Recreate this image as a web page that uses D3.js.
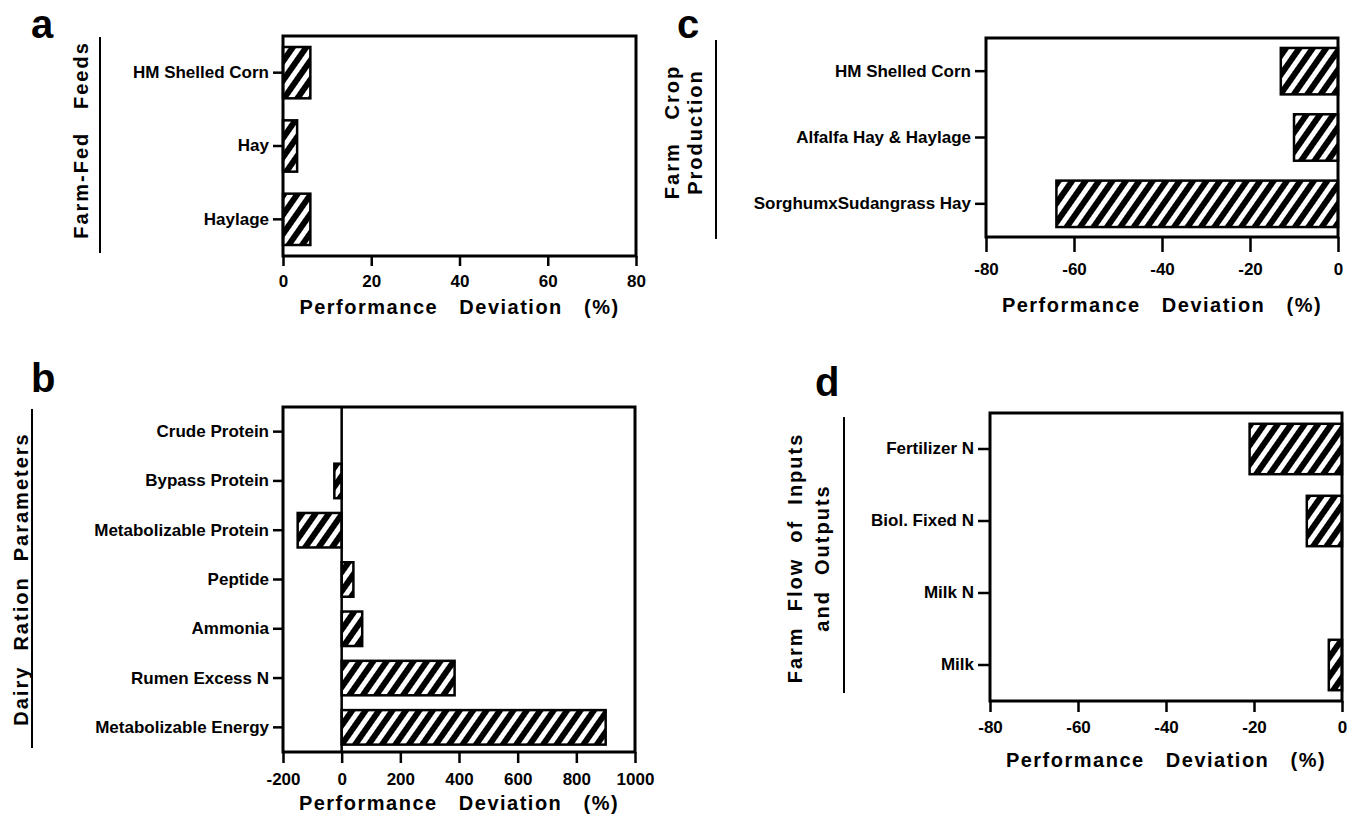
<!DOCTYPE html>
<html>
<head>
<meta charset="utf-8">
<script src="https://cdn.jsdelivr.net/npm/d3@7"></script>
<style>
body{margin:0;background:#fff;}
svg text{font-family:"Liberation Sans",Arial,Helvetica,sans-serif;font-weight:bold;fill:#000;}
</style>
</head>
<body>
<svg id="chart" width="1352" height="818"></svg>
<script>
// Data
var catsA = ["HM Shelled Corn", "Hay", "Haylage"];
var valsA = [6.2, 3.2, 6.2];
var ticksA = [0, 20, 40, 60, 80];

var catsB = ["Crude Protein", "Bypass Protein", "Metabolizable Protein", "Peptide", "Ammonia", "Rumen Excess N", "Metabolizable Energy"];
var valsB = [0, -25, -150, 40, 70, 385, 900];
var ticksB = [-200, 0, 200, 400, 600, 800, 1000];

var catsC = ["HM Shelled Corn", "Alfalfa Hay & Haylage", "SorghumxSudangrass Hay"];
var valsC = [-13, -10, -64];
var ticksC = [-80, -60, -40, -20, 0];

var catsD = ["Fertilizer N", "Biol. Fixed N", "Milk N", "Milk"];
var valsD = [-21, -8, 0, -3];
var ticksD = [-80, -60, -40, -20, 0];

var axisTitle = "Performance   Deviation   (%)";

var svg = d3.select("#chart");

// hatch fill
var pat = svg.append("defs").append("pattern")
  .attr("id", "hatch")
  .attr("patternUnits", "userSpaceOnUse")
  .attr("width", 11).attr("height", 11)
  .attr("patternTransform", "rotate(35)");
pat.append("rect").attr("width", 11).attr("height", 11).attr("fill", "#fff");
pat.append("rect").attr("width", 6).attr("height", 11).attr("fill", "#000");

function drawPanel(p){
  var g = svg.append("g");

  var x = d3.scaleLinear().domain(p.domain).range([p.left, p.right]);
  var y = d3.scaleBand().domain(p.cats).range([p.top, p.bottom])
    .paddingInner(0.3).paddingOuter(0.15);

  // bars
  g.selectAll("rect.bar")
    .data(p.cats.map(function(c, i){ return {cat: c, v: p.vals[i]}; })
      .filter(function(d){ return d.v !== 0; }))
    .enter().append("rect")
      .attr("class", "bar")
      .attr("x", function(d){ return x(Math.min(0, d.v)); })
      .attr("width", function(d){ return Math.abs(x(d.v) - x(0)); })
      .attr("y", function(d){ return y(d.cat); })
      .attr("height", y.bandwidth())
      .attr("fill", "url(#hatch)")
      .attr("stroke", "#000")
      .attr("stroke-width", 2.5);

  // zero line (only when 0 is inside the domain)
  if(p.zeroLine){
    g.append("line")
      .attr("x1", x(0)).attr("x2", x(0))
      .attr("y1", p.top).attr("y2", p.bottom)
      .attr("stroke", "#000").attr("stroke-width", 2.5);
  }

  // frame
  g.append("rect")
    .attr("x", p.left).attr("y", p.top)
    .attr("width", p.right - p.left).attr("height", p.bottom - p.top)
    .attr("fill", "none").attr("stroke", "#000").attr("stroke-width", 3);

  // x axis
  var xa = g.append("g")
    .attr("transform", "translate(0," + p.bottom + ")")
    .call(d3.axisBottom(x).tickValues(p.ticks).tickSize(p.tickLen)
      .tickPadding(p.tickPad).tickFormat(function(d){ return String(d); }));
  xa.select(".domain").remove();
  xa.selectAll("line").attr("stroke-width", 2.5);
  xa.selectAll("text").style("font-size", "17px");

  // y axis
  var ya = g.append("g")
    .attr("transform", "translate(" + p.left + ",0)")
    .call(d3.axisLeft(y).tickSize(p.yTickLen).tickPadding(4));
  ya.select(".domain").remove();
  ya.selectAll("line").attr("stroke-width", 2.5);
  ya.selectAll("text").style("font-size", "17px");

  // axis title
  g.append("text")
    .attr("x", (p.left + p.right) / 2)
    .attr("y", p.titleY)
    .attr("text-anchor", "middle")
    .style("white-space", "pre")
    .style("font-size", "20px")
    .style("letter-spacing", "1.5px")
    .text(axisTitle);

  // panel letter
  g.append("text")
    .attr("x", p.letterX).attr("y", p.letterY)
    .style("font-size", "40px")
    .text(p.letter);

  // group label with rule
  g.append("line")
    .attr("x1", p.ruleX).attr("x2", p.ruleX)
    .attr("y1", p.ruleTop).attr("y2", p.ruleBottom)
    .attr("stroke", "#000").attr("stroke-width", 2);

  p.group.forEach(function(line, i){
    var cx = p.groupX[i];
    g.append("text")
      .attr("transform", "translate(" + cx + "," + p.groupY + ") rotate(-90)")
      .attr("text-anchor", "middle")
      .attr("dy", "0.36em")
      .style("white-space", "pre")
      .style("font-size", "20px")
      .style("letter-spacing", "2px")
      .text(line);
  });
}

drawPanel({
  letter: "a", letterX: 31, letterY: 38,
  cats: catsA, vals: valsA, ticks: ticksA, domain: [0, 80],
  left: 283, right: 636, top: 36, bottom: 256,
  tickLen: 10, tickPad: 9, yTickLen: 10, titleY: 314,
  group: ["Farm-Fed   Feeds"], groupX: [81], groupY: 140,
  ruleX: 100, ruleTop: 37, ruleBottom: 253
});

drawPanel({
  letter: "b", letterX: 31, letterY: 392,
  cats: catsB, vals: valsB, ticks: ticksB, domain: [-200, 1000], zeroLine: true,
  left: 283, right: 635, top: 407, bottom: 752,
  tickLen: 11, tickPad: 10, yTickLen: 10, titleY: 810,
  group: ["Dairy  Ration  Parameters"], groupX: [21], groupY: 579,
  ruleX: 32, ruleTop: 409, ruleBottom: 748
});

drawPanel({
  letter: "c", letterX: 677, letterY: 38,
  cats: catsC, vals: valsC, ticks: ticksC, domain: [-80, 0],
  left: 986, right: 1338, top: 38, bottom: 237,
  tickLen: 15, tickPad: 11, yTickLen: 11, titleY: 312,
  group: ["Farm   Crop", "Production"], groupX: [672, 695], groupY: 132,
  ruleX: 716, ruleTop: 40, ruleBottom: 239
});

drawPanel({
  letter: "d", letterX: 815, letterY: 396,
  cats: catsD, vals: valsD, ticks: ticksD, domain: [-80, 0],
  left: 990, right: 1342, top: 413, bottom: 701,
  tickLen: 11, tickPad: 9, yTickLen: 12, titleY: 767,
  group: ["Farm  Flow  of  Inputs", "and  Outputs"], groupX: [795, 822], groupY: 558,
  ruleX: 844, ruleTop: 417, ruleBottom: 693
});
</script>
</body>
</html>
